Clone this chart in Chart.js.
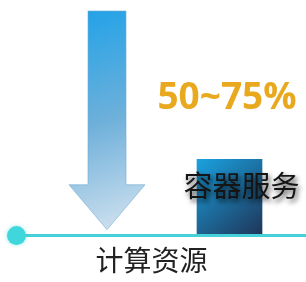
<!DOCTYPE html>
<html>
<head>
<meta charset="utf-8">
<script src="https://cdn.jsdelivr.net/npm/chart.js@4"></script>
<style>
  html, body { margin: 0; padding: 0; background: #fff; }
  #wrap { width: 306px; height: 282px; }
</style>
</head>
<body>
<div id="wrap"><canvas id="resourceChart"></canvas></div>
<script>
// 数据
const categories = ["原有资源", "容器服务"];
const legacyValues = [100, null];     // 原计算资源 (箭头)
const containerValues = [null, 34];   // 容器服务所需资源
const axisTitle = "计算资源";
const savingLabel = "50~75%";

const cjkFont = "'Noto Sans CJK SC', 'Noto Sans', sans-serif";

// 底部基线 + 左侧圆点
const baselinePlugin = {
  id: "baseline",
  afterDatasetsDraw(chart) {
    const ctx = chart.ctx;
    const y = chart.scales.y.getPixelForValue(0);
    ctx.save();
    ctx.strokeStyle = "#46d0d8";
    ctx.lineWidth = 3;
    ctx.beginPath();
    ctx.moveTo(16, y);
    ctx.lineTo(chart.width, y);
    ctx.stroke();
    ctx.shadowColor = "rgba(60, 214, 220, 0.5)";
    ctx.shadowBlur = 4;
    ctx.fillStyle = "#3fd6dc";
    ctx.beginPath();
    ctx.arc(16.5, y, 9.5, 0, Math.PI * 2);
    ctx.fill();
    ctx.restore();
  }
};

// 把第一组柱子画成向下的箭头
const arrowPlugin = {
  id: "arrowBar",
  afterDatasetsDraw(chart) {
    const ctx = chart.ctx;
    const bar = chart.getDatasetMeta(0).data[0];
    if (!bar) return;
    const { x, y, base, width } = bar.getProps(["x", "y", "base", "width"], true);
    const half = width / 2;
    const tip = base - 6;
    const headTop = tip - width * 1.18;

    const grad = ctx.createLinearGradient(x - width, y, x + width, tip);
    grad.addColorStop(0, "#1fa2e8");
    grad.addColorStop(0.5, "#6eb0da");
    grad.addColorStop(1, "#d6e4f0");

    ctx.save();
    ctx.beginPath();
    ctx.moveTo(x - half, y);
    ctx.lineTo(x + half, y);
    ctx.lineTo(x + half, headTop);
    ctx.lineTo(x + width, headTop);
    ctx.lineTo(x, tip);
    ctx.lineTo(x - width, headTop);
    ctx.lineTo(x - half, headTop);
    ctx.closePath();
    ctx.fillStyle = grad;
    ctx.fill();
    ctx.strokeStyle = "rgba(110, 170, 210, 0.6)";
    ctx.lineWidth = 1;
    ctx.stroke();
    ctx.restore();
  }
};

// 柱子上的文字
const labelPlugin = {
  id: "barLabels",
  afterDatasetsDraw(chart) {
    const ctx = chart.ctx;
    const bar = chart.getDatasetMeta(1).data[1];
    if (!bar) return;
    ctx.save();
    ctx.textAlign = "center";

    ctx.font = "bold 37px 'Open Sans', sans-serif";
    ctx.fillStyle = "#e9a91f";
    ctx.textBaseline = "alphabetic";
    ctx.fillText(savingLabel, bar.x - 2.5, bar.y - 50);

    ctx.font = "29px " + cjkFont;
    ctx.textBaseline = "middle";
    ctx.shadowColor = "rgba(0, 0, 0, 0.7)";
    ctx.shadowBlur = 5;
    ctx.shadowOffsetX = 2;
    ctx.shadowOffsetY = 3;
    ctx.fillStyle = "#151515";
    ctx.fillText(categories[1], bar.x + 12, bar.y + 27);
    ctx.restore();
  }
};

const ctx = document.getElementById("resourceChart").getContext("2d");
const containerGrad = ctx.createLinearGradient(197, 159, 262, 236);
containerGrad.addColorStop(0, "#1aa2e0");
containerGrad.addColorStop(1, "#1f3457");

new Chart(ctx, {
  type: "bar",
  data: {
    labels: categories,
    datasets: [
      {
        label: categories[0],
        data: legacyValues,
        backgroundColor: "rgba(0,0,0,0)",
        barThickness: 38,
        grouped: false
      },
      {
        label: categories[1],
        data: containerValues,
        backgroundColor: containerGrad,
        barThickness: 65,
        grouped: false
      }
    ]
  },
  options: {
    responsive: true,
    maintainAspectRatio: false,
    animation: false,
    events: [],
    layout: {
      padding: { top: 11, left: 12.25, right: 15.25, bottom: 0 }
    },
    plugins: {
      legend: { display: false },
      tooltip: { enabled: false },
      title: {
        display: true,
        position: "bottom",
        text: axisTitle,
        color: "#222",
        font: { family: cjkFont, size: 28, weight: "normal" },
        padding: { top: 8.2, bottom: 4.6 }
      }
    },
    scales: {
      x: { display: false },
      y: {
        min: 0,
        max: 100,
        ticks: { display: false },
        grid: { display: false },
        border: { display: false },
        afterFit(scale) { scale.width = 33.5; }
      }
    }
  },
  plugins: [baselinePlugin, arrowPlugin, labelPlugin]
});
</script>
</body>
</html>
